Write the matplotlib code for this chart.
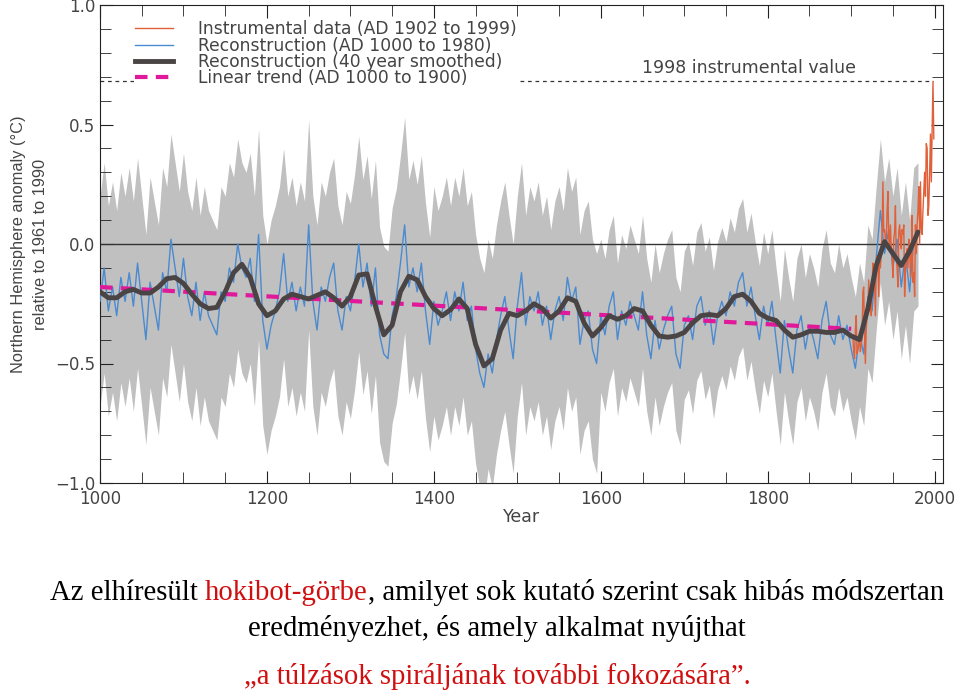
import numpy as np
import matplotlib
matplotlib.use("Agg")
import matplotlib.pyplot as plt
from matplotlib.lines import Line2D
from matplotlib.ticker import MultipleLocator

# ==============================
# data
# ==============================
# reconstruction, every 5 years 1000..1980
recon_years = np.arange(1000, 1981, 5)
recon = [
    -0.24, -0.10, -0.28, -0.18, -0.30, -0.14, -0.24, -0.12, -0.26, -0.08,   # 1000
    -0.24, -0.40, -0.16, -0.26, -0.36, -0.12, -0.20, 0.02, -0.10, -0.22,    # 1050
    -0.06, -0.22, -0.30, -0.16, -0.32, -0.20, -0.30, -0.34, -0.38, -0.20,   # 1100
    -0.24, -0.10, -0.16, 0.00, -0.10, -0.14, -0.06, -0.24, 0.04, -0.32,     # 1150
    -0.44, -0.34, -0.28, -0.20, -0.04, -0.24, -0.16, -0.28, -0.18, -0.26,   # 1200
    0.08, -0.24, -0.36, -0.18, -0.24, -0.14, -0.08, -0.28, -0.36, -0.22,    # 1250
    -0.28, -0.16, 0.00, -0.18, -0.08, -0.26, -0.10, -0.38, -0.46, -0.48,    # 1300
    -0.30, -0.22, -0.08, 0.08, -0.18, -0.10, -0.20, -0.08, -0.28, -0.42,    # 1350
    -0.24, -0.34, -0.28, -0.20, -0.32, -0.20, -0.28, -0.16, -0.32, -0.26,   # 1400
    -0.44, -0.54, -0.60, -0.46, -0.54, -0.40, -0.30, -0.22, -0.36, -0.48,   # 1450
    -0.26, -0.12, -0.34, -0.22, -0.28, -0.20, -0.34, -0.26, -0.40, -0.28,   # 1500
    -0.22, -0.32, -0.14, -0.24, -0.18, -0.42, -0.32, -0.28, -0.44, -0.50,   # 1550
    -0.30, -0.38, -0.26, -0.20, -0.40, -0.28, -0.34, -0.24, -0.30, -0.36,   # 1600
    -0.20, -0.38, -0.48, -0.32, -0.44, -0.36, -0.30, -0.26, -0.46, -0.52,   # 1650
    -0.34, -0.30, -0.40, -0.26, -0.22, -0.34, -0.28, -0.42, -0.30, -0.24,   # 1700
    -0.30, -0.20, -0.26, -0.16, -0.12, -0.26, -0.18, -0.30, -0.40, -0.26,   # 1750
    -0.34, -0.24, -0.40, -0.54, -0.32, -0.44, -0.54, -0.36, -0.30, -0.44,   # 1800
    -0.34, -0.40, -0.48, -0.32, -0.24, -0.38, -0.42, -0.30, -0.40, -0.34,   # 1850
    -0.44, -0.52, -0.38, -0.46, -0.22, -0.28, -0.06, 0.14, -0.04, 0.06,     # 1900
    -0.10, 0.02, -0.18, -0.04, -0.20, 0.02, 0.04,                           # 1950
]

# uncertainty half width per century (1000s .. 1900s)
band_century = [1000, 1100, 1200, 1300, 1400, 1500, 1600, 1700, 1800, 1900]
band_halfwidth = [0.44, 0.44, 0.44, 0.45, 0.48, 0.46, 0.32, 0.31, 0.30, 0.30]

# 40 year smoothed, every 10 years
smooth_years = np.arange(1000, 1981, 10)
smooth = [
    -0.20, -0.225, -0.225, -0.20, -0.19, -0.205, -0.205, -0.18, -0.145, -0.14,
    -0.165, -0.21, -0.25, -0.27, -0.265, -0.20, -0.12, -0.085, -0.14, -0.25,
    -0.30, -0.28, -0.23, -0.21, -0.22, -0.23, -0.215, -0.20, -0.225, -0.26,
    -0.22, -0.13, -0.125, -0.26, -0.38, -0.34, -0.20, -0.135, -0.15, -0.22,
    -0.27, -0.30, -0.275, -0.23, -0.27, -0.42, -0.51, -0.48, -0.36, -0.29,
    -0.30, -0.28, -0.25, -0.27, -0.31, -0.28, -0.225, -0.24, -0.33, -0.385,
    -0.35, -0.30, -0.315, -0.30, -0.27, -0.28, -0.34, -0.385, -0.39, -0.385,
    -0.37, -0.33, -0.30, -0.295, -0.30, -0.27, -0.22, -0.21, -0.24, -0.29,
    -0.31, -0.32, -0.36, -0.39, -0.38, -0.365, -0.365, -0.37, -0.37, -0.36,
    -0.385, -0.40, -0.27, -0.09, 0.01, -0.04, -0.09, -0.03, 0.05,
]

# instrumental data 1902..1999
instr_years = np.arange(1902, 2000)
instr = [
    -0.38, -0.45, -0.48, -0.36, -0.30, -0.46, -0.44, -0.42,
    -0.40, -0.45, -0.42, -0.40, -0.20, -0.18, -0.38, -0.50, -0.36, -0.30,
    -0.28, -0.15, -0.28, -0.25, -0.30, -0.18, -0.08, -0.14, -0.16, -0.30,
    -0.10, -0.05, -0.08, -0.22, -0.06, -0.10, -0.04, 0.05, 0.26, 0.05,
    0.06, 0.02, 0.00, 0.14, 0.22, 0.02, -0.02, 0.08, -0.02, -0.05,
    -0.14, 0.02, 0.05, 0.16, -0.06, -0.10, -0.18, 0.05, 0.08, 0.03,
    -0.02, 0.06, 0.04, 0.08, -0.22, -0.12, -0.05, -0.02, -0.10, 0.02,
    -0.02, -0.14, -0.06, 0.12, -0.16, -0.12, -0.22, 0.08, -0.04, 0.08,
    0.14, 0.24, 0.00, 0.26, 0.06, 0.04, 0.14, 0.22, 0.30, 0.20,
    0.42, 0.40, 0.12, 0.16, 0.30, 0.46, 0.26, 0.48, 0.68, 0.44,
]

trend_years = [1000, 1900]
trend = [-0.18, -0.355]
value_1998 = 0.68

legend_labels = [
    "Instrumental data (AD 1902 to 1999)",
    "Reconstruction (AD 1000 to 1980)",
    "Reconstruction (40 year smoothed)",
    "Linear trend (AD 1000 to 1900)",
]

# ==============================
# figure
# ==============================
GREY_TXT = "#444444"
RED_C = "#e0603a"
BLUE_C = "#4a8ad0"
DARK_C = "#4a4444"
MAG_C = "#e0189a"
plt.rcParams["font.family"] = ["DejaVu Sans"]

fig = plt.figure(figsize=(9.6, 6.95), dpi=100)
ax = fig.add_axes([100 / 960, 1 - 483 / 695, 843 / 960, 478 / 695])

recon = np.array(recon)
hw = np.array(band_halfwidth)[(recon_years - band_century[0]) // 100]
ax.fill_between(recon_years, recon - hw, recon + hw, color="#c0c0c0", lw=0, zorder=1)
ax.axhline(0, color="#333333", lw=1, zorder=2)
ax.plot(recon_years, recon, color=BLUE_C, lw=1, zorder=3)
ax.plot(instr_years, instr, color=RED_C, lw=1, zorder=3)
ax.plot(trend_years, trend, color=MAG_C, lw=3, dashes=(3, 2), zorder=4)
ax.plot(smooth_years, smooth, color=DARK_C, lw=3.5, zorder=5, solid_capstyle="round")
# dotted reference line sits under the legend box, the ticks stay on top
ax.plot([1000, 1998], [value_1998, value_1998], color="#333333", lw=0.9,
        dashes=(3, 3), zorder=1.2)
ax.text(1778, 0.735, "1998 instrumental value", ha="center", va="center",
        fontsize=12.5, color=GREY_TXT)

ax.set_xlim(1000, 2010)
ax.set_ylim(-1.0, 1.0)
ax.xaxis.set_major_locator(MultipleLocator(200))
ax.xaxis.set_minor_locator(MultipleLocator(50))
ax.yaxis.set_major_locator(MultipleLocator(0.5))
ax.yaxis.set_minor_locator(MultipleLocator(0.1))
ax.yaxis.set_major_formatter(lambda v, p: f"{v:.1f}".replace("-", "\u2212"))
ax.tick_params(which="both", direction="in", top=True, right=True,
               labelsize=12, labelcolor=GREY_TXT, color="#222222")
ax.tick_params(which="major", length=9)
ax.tick_params(which="minor", length=8)
ax.tick_params(axis="x", pad=5)
for s in ax.spines.values():
    s.set_color("#222222")
ax.set_xlabel("Year", fontsize=12.5, color=GREY_TXT, labelpad=0)
ax.set_ylabel("Northern Hemisphere anomaly (\u00b0C)\nrelative to 1961 to 1990",
              fontsize=11.8, color=GREY_TXT, linespacing=1.55, labelpad=5,
              family=["Liberation Sans", "DejaVu Sans"])

handles = [
    Line2D([], [], color=RED_C, lw=1),
    Line2D([], [], color=BLUE_C, lw=1),
    Line2D([], [], color=DARK_C, lw=3.5),
    Line2D([], [], color=MAG_C, lw=3, dashes=(3, 2)),
]
leg = ax.legend(handles, legend_labels, loc="upper left",
                bbox_to_anchor=(25 / 843, 1 - 5 / 478), fontsize=12.3,
                frameon=True, facecolor="white", edgecolor="none", framealpha=1,
                borderpad=0.1, labelspacing=-0.1, handlelength=2.2,
                handletextpad=1.5, fancybox=False)
leg.set_zorder(1.4)
for t in leg.get_texts():
    t.set_color(GREY_TXT)

# ==============================
# Hungarian caption
# ==============================
renderer = fig.canvas.get_renderer()
cap_font = dict(fontsize=20.7, family=["Liberation Serif", "DejaVu Serif"])
pieces = [("Az elhíresült ", "black"), ("hokibot-görbe", "#d01010"),
          (", amilyet sok kutató szerint csak hibás módszertan", "black")]
texts = [fig.text(0, 0, s, color=c, va="baseline", ha="left", **cap_font) for s, c in pieces]
widths = [t.get_window_extent(renderer).width for t in texts]
x0 = 497 - sum(widths) / 2
for t, w in zip(texts, widths):
    t.set_position((x0 / 960, 1 - 600 / 695))
    x0 += w
fig.text(497 / 960, 1 - 636 / 695, "eredményezhet, és amely alkalmat nyújthat",
         ha="center", va="baseline", color="black", **cap_font)
fig.text(497 / 960, 1 - 684 / 695, "\u201ea túlzások spiráljának további fokozására\u201d.",
         ha="center", va="baseline", color="#d01010", **cap_font)

fig.savefig("out.png", dpi=100)
